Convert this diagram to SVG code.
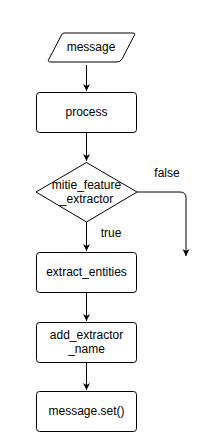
<svg xmlns="http://www.w3.org/2000/svg" width="207" height="444" viewBox="0 0 207 444">
<style>
.s{fill:#fff;stroke:#000;stroke-width:1}
.t{font-family:"Liberation Sans",Arial,sans-serif;font-size:12px;fill:#000;text-anchor:middle;dominant-baseline:central}
.c{fill:none;stroke:#000;stroke-width:1}
</style>
<defs>
<marker id="a" markerWidth="8" markerHeight="8" refX="7" refY="4" orient="auto" markerUnits="userSpaceOnUse">
<path d="M0,0.5 L7,4 L0,7.5 L2,4 Z" fill="#000"/>
</marker>
</defs>
<rect width="207" height="444" fill="#fff"/>
<g id="connectors">
<line class="c" x1="86.5" y1="65" x2="86.5" y2="91" marker-end="url(#a)"/>
<line class="c" x1="86.5" y1="132" x2="86.5" y2="161" marker-end="url(#a)"/>
<path class="c" d="M137,192 H180 Q186,192 186,198 V256" marker-end="url(#a)"/>
<line class="c" x1="86.5" y1="222" x2="86.5" y2="251" marker-end="url(#a)"/>
<line class="c" x1="86.5" y1="292" x2="86.5" y2="321" marker-end="url(#a)"/>
<line class="c" x1="86.5" y1="362" x2="86.5" y2="390" marker-end="url(#a)"/>
<text class="t" x="167" y="173">false</text>
<text class="t" x="111" y="233">true</text>
</g>
<g id="message">
<path class="s" d="M64,33 H133 Q136,33 134,36 L122,59 Q120,62 117,62 H51 Q47,62 49,59 L61,36 Q62,33 64,33 Z"/>
<text class="t" x="91" y="47">message</text>
</g>
<g id="process">
<rect class="s" x="36.5" y="92.5" width="100" height="40" rx="3"/>
<text class="t" x="86.5" y="112">process</text>
</g>
<g id="mitie_feature_extractor">
<path class="s" d="M86.5,162.5 L137,192 L86.5,222 L36,192 Z"/>
<text class="t" x="86.5" y="185">mitie_feature</text>
<text class="t" x="86.5" y="199">_extractor</text>
</g>
<g id="extract_entities">
<rect class="s" x="36.5" y="252.5" width="100" height="40" rx="3"/>
<text class="t" x="86.5" y="272">extract_entities</text>
</g>
<g id="add_extractor_name">
<rect class="s" x="36.5" y="322.5" width="100" height="40" rx="3"/>
<text class="t" x="86.5" y="335">add_extractor</text>
<text class="t" x="86.5" y="349">_name</text>
</g>
<g id="message_set">
<rect class="s" x="36.5" y="391.5" width="100" height="40" rx="3"/>
<text class="t" x="86.5" y="411">message.set()</text>
</g>
</svg>
